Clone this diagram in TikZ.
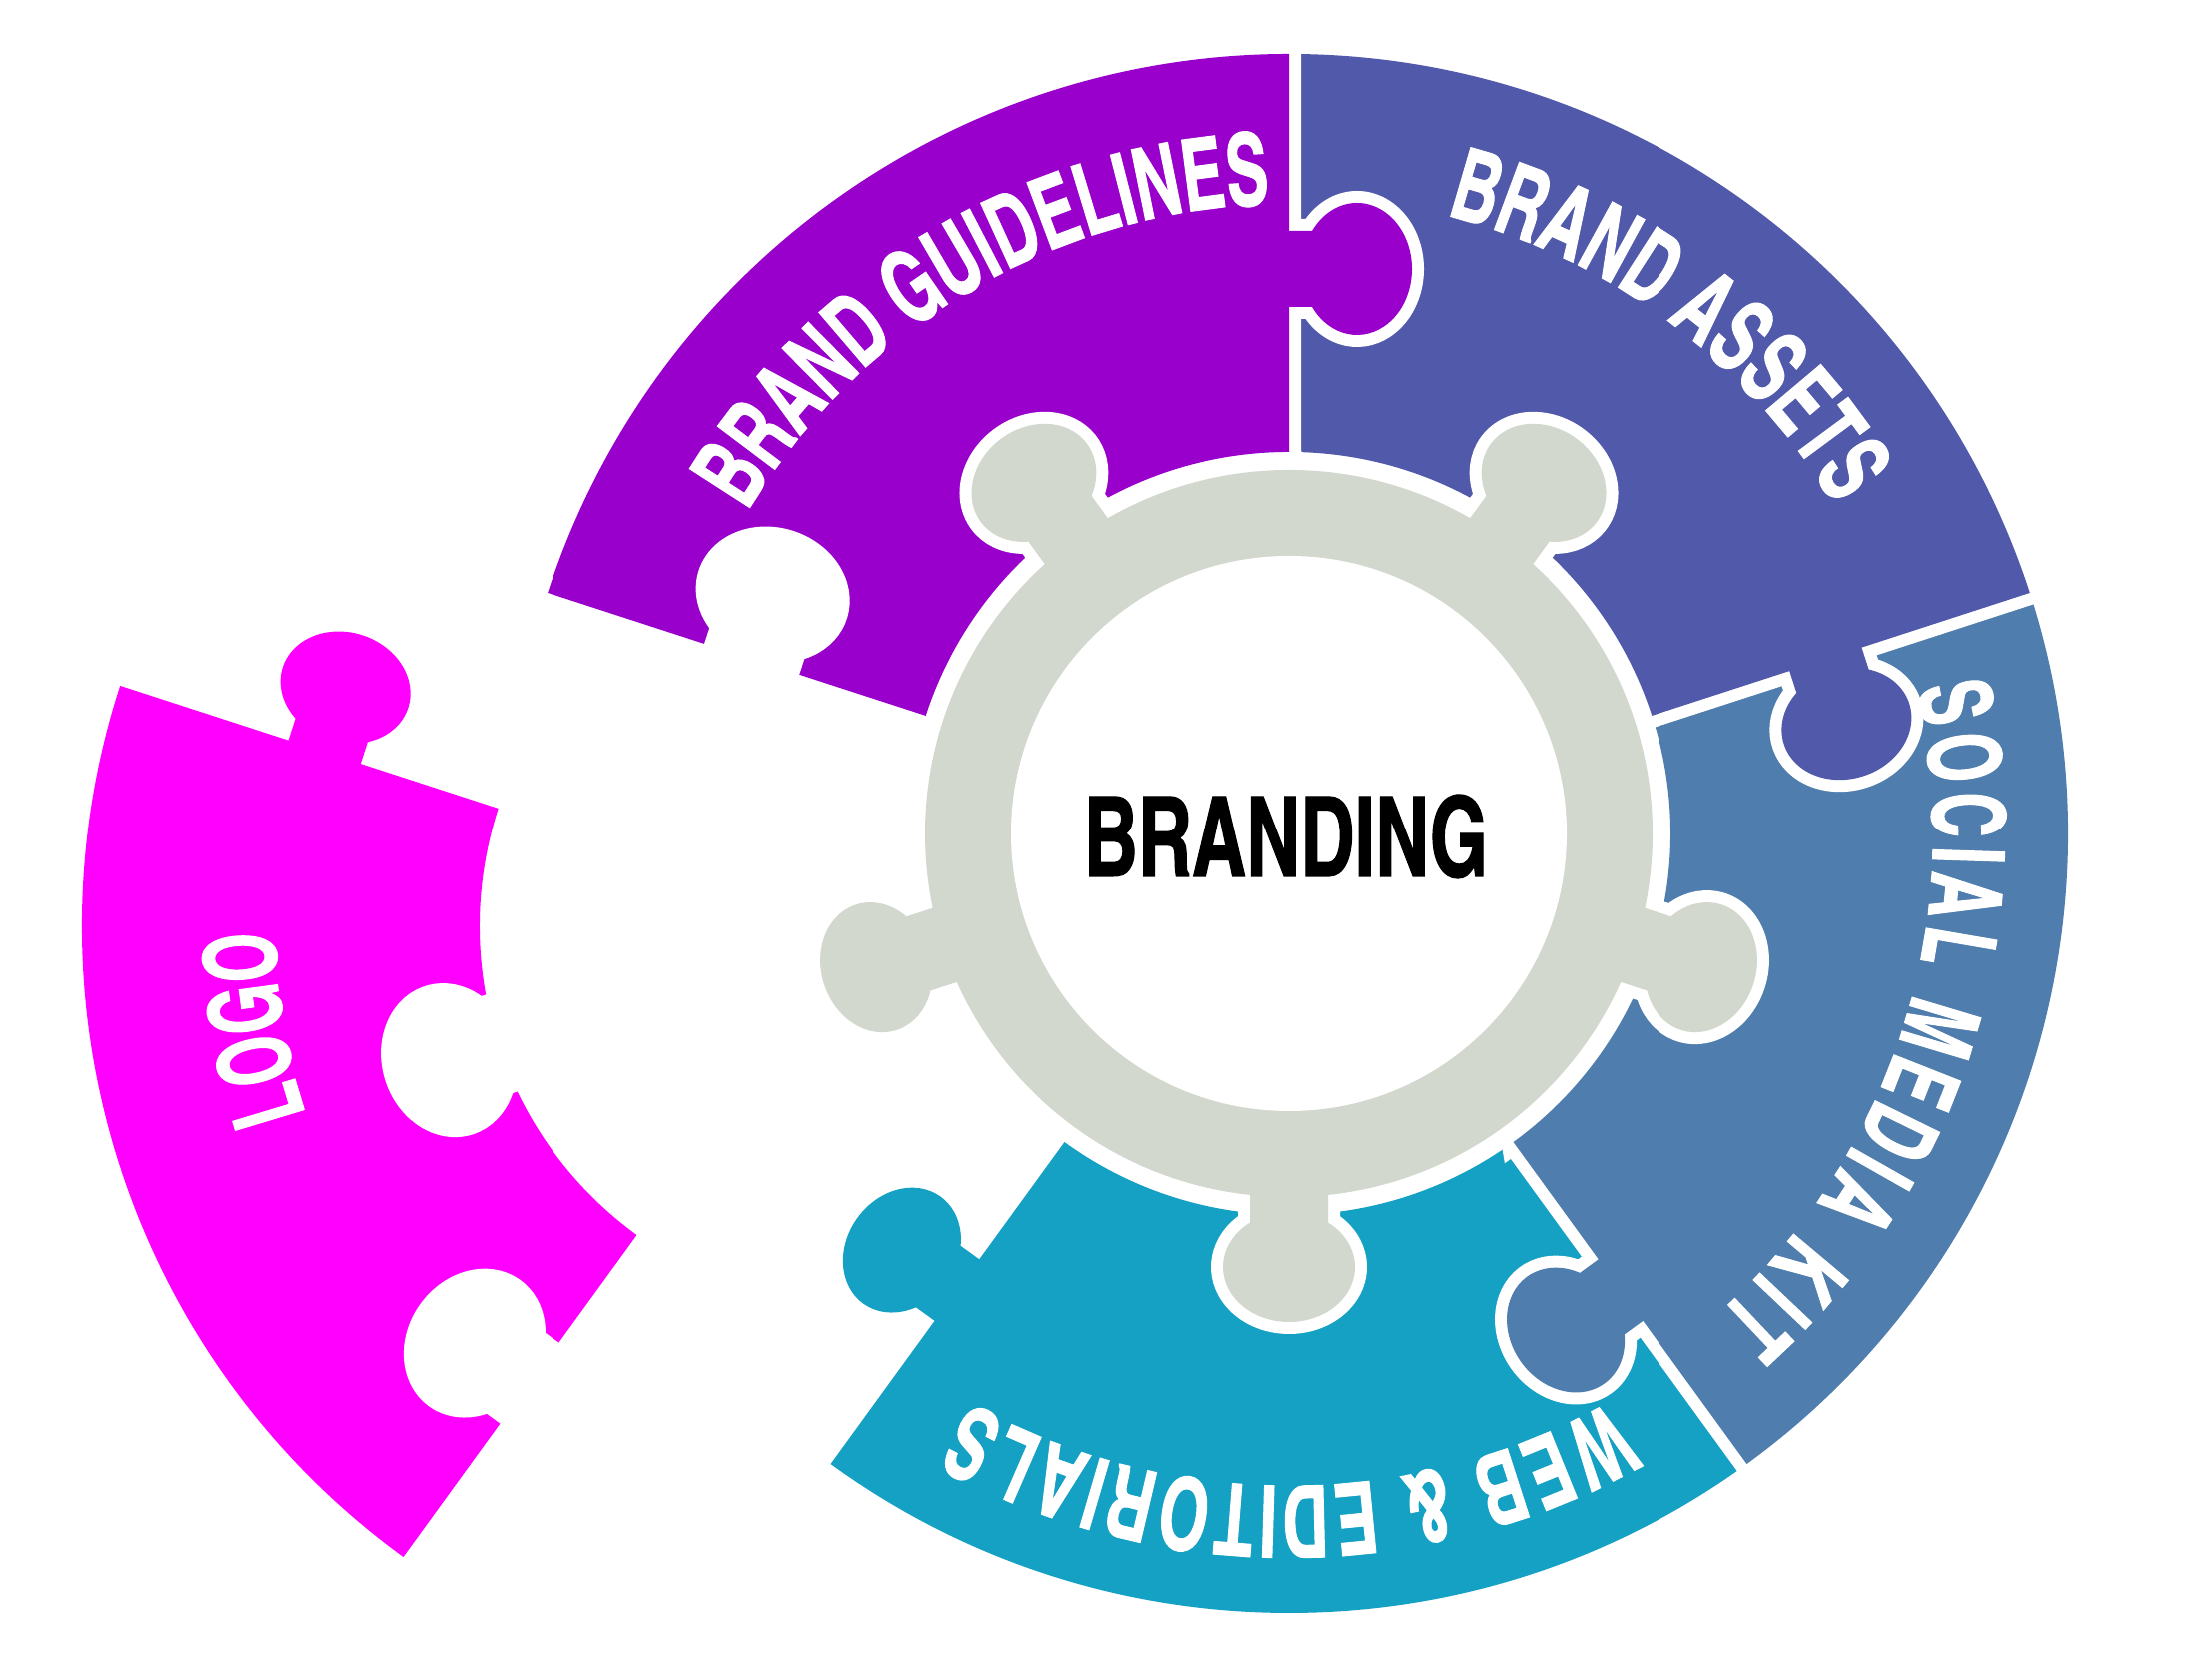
\documentclass[tikz,border=0pt]{standalone}
\usepackage{fontspec}
\newfontfamily\ringfont[FakeStretch=0.77,FakeBold=1.0]{texgyreheroscn-bold.otf}
\newfontfamily\centerfont[FakeStretch=0.82,FakeBold=1.0]{texgyreheroscn-bold.otf}
\usetikzlibrary{decorations.text}
\definecolor{cPurple}{RGB}{153,0,204}
\definecolor{cBlue}{RGB}{81,89,171}
\definecolor{cSocial}{RGB}{79,125,173}
\definecolor{cWeb}{RGB}{21,161,196}
\definecolor{cLogo}{RGB}{255,0,255}
\definecolor{cGear}{RGB}{211,216,207}
\def\Rin{3.82}\def\Rout{7.80}
\def\tu{5.65}\def\tv{0.68}\def\ta{0.66}\def\tb{0.55}\def\tw{0.38}
\pgfmathsetmacro\tal{acos(\tw/\ta)}
\pgfmathsetmacro\tvn{\tv-\tb*sin(\tal)}
\def\gc{4.34}\def\ga{0.66}\def\gb{0.55}\def\gw{0.39}
\pgfmathsetmacro\gal{acos(\gw/\ga)}
\pgfmathsetmacro\gvn{\gc-\gb*sin(\gal)}
\newcommand\lab{\ringfont\fontsize{28.5}{30}\selectfont\color{white}}
\tikzset{
  wline/.style={draw=white, line width=0.24cm},
  hole/.style={fill=white, draw=white, line width=0.24cm},
  sectorpath/.style 2 args={insert path={(#1:\Rin) -- (#1:\Rout)
      arc[start angle=#1, end angle=#2, radius=\Rout] -- (#2:\Rin)
      arc[start angle=#2, end angle=#1, radius=\Rin] -- cycle}},
  tabpath/.style={insert path={({\tu-\tw},0.02) -- ({\tu-\tw},-\tvn)
      arc[start angle={180-\tal}, end angle={360+\tal}, x radius=\ta, y radius=\tb]
      -- ({\tu+\tw},0.02) -- cycle}},
  knobpath/.style={insert path={(\gw,3.5) -- (\gw,\gvn)
      arc[start angle=-\gal, end angle={180+\gal}, x radius=\ga, y radius=\gb]
      -- (-\gw,3.5) -- cycle}},
  fitlabel/.style={decorate, decoration={text along path, text={|\lab|#1}, text align=fit to path}},
  midlabel/.style={decorate, decoration={text along path, text={|\lab|#1}, text align=center}}
}
\newcommand\ringpiece[3]{%
  \path[wline, sectorpath={#1}{#2}];
  \path[wline, rotate=#1, tabpath];
  \fill[#3, sectorpath={#1}{#2}];
  \fill[#3, rotate=#1, tabpath];
}
\begin{document}
\begin{tikzpicture}
\useasboundingbox (0,0) rectangle (22.14,16.58);
\fill[white] (0,0) rectangle (22.14,16.58);
\begin{scope}[shift={(12.90,8.24)}]
  % ring pieces
  \ringpiece{-126}{-54}{cWeb}
  \ringpiece{-54}{18}{cSocial}
  \ringpiece{18}{90}{cBlue}
  \ringpiece{90}{162}{cPurple}
  \begin{scope}[shift={(-4.28,-0.93)}]
    \ringpiece{162}{234}{cLogo}
    \path[hole, rotate=-126, tabpath];
    \path[hole, rotate=108, knobpath];
  \end{scope}
  \path[hole, rotate=162, tabpath];
  % gear
  \path[wline] (0,0) circle[radius=3.64];
  \foreach \p in {126,54,-18,-90,198} {\path[wline, rotate=\p-90, knobpath];}
  \fill[cGear] (0,0) circle[radius=3.64];
  \foreach \p in {126,54,-18,-90,198} {\fill[cGear, rotate=\p-90, knobpath];}
  \fill[white] (0,0) circle[radius=2.78];
  \node[inner sep=0pt, font=\centerfont\fontsize{31.7}{32}\selectfont] (brand) at (-0.03,-0.03) {BRANDING};
  % labels
  \path[midlabel={BRAND GUIDELINES}] (160.5:6.30) arc[start angle=160.5, end angle=80.5, radius=6.30];
  \path[midlabel={BRAND ASSETS}] (83.35:6.38) arc[start angle=83.35, end angle=23.35, radius=6.38];
  \path[fitlabel={SOCIAL MEDIA KIT}] (13.05:6.45) arc[start angle=13.05, end angle=-48.3, radius=6.45];
  \path[fitlabel={WEB {\&} EDITORIALS}] (-60.4:6.53) arc[start angle=-60.4, end angle=-119.3, radius=6.53];
  \begin{scope}[shift={(-4.28,-0.93)}]
    \path[midlabel={LOGO}] (204.6:5.87) arc[start angle=204.6, end angle=174.6, radius=5.87];
  \end{scope}
\end{scope}
\end{tikzpicture}
\end{document}
